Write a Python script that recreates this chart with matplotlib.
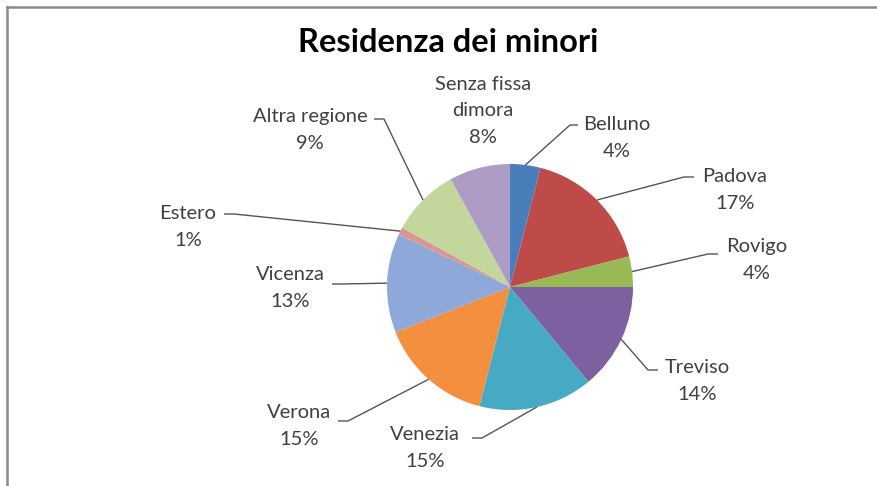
import matplotlib
matplotlib.use('Agg')  # headless
import numpy as np
import matplotlib.pyplot as plt

# Data (clockwise from 12 o'clock)
categories = ['Belluno', 'Padova', 'Rovigo', 'Treviso', 'Venezia', 'Verona',
              'Vicenza', 'Estero', 'Altra regione', 'Senza fissa dimora']
percent = [4, 17, 4, 14, 15, 15, 13, 1, 9, 8]
slice_colors = ['#4A7EBB', '#BE4B48', '#98B954', '#7D60A0', '#46AAC5', '#F38F3E',
                '#8FA8DA', '#D99694', '#C3D69B', '#AE9CC6']
label_text = ['Belluno', 'Padova', 'Rovigo', 'Treviso', 'Venezia', 'Verona',
              'Vicenza', 'Estero', 'Altra regione', 'Senza fissa\ndimora']

W, H = 877, 486
CX, CY, R = 510, 287, 123  # pie centre / radius, pixel coords (y down)

# label layout in pixel coords: text centre, leader end at text, stub end (None = no leader)
layout = [
    ((617, 138), (578, 125), (570, 125)),
    ((735, 190), (694, 177), (684, 177)),
    ((757, 260), (718, 254), (708, 254)),
    ((697, 381), (658, 370), (648, 370)),
    ((425, 448), (472, 438), (482, 438)),
    ((299, 426), (338, 421), (348, 421)),
    ((290, 288), (332, 284), (342, 284)),
    ((188, 227), (224, 214), (234, 214)),
    ((310, 130), (374, 119), (384, 119)),
    ((483, 111), None, None),
]

plt.rcParams['font.family'] = ['Lato', 'DejaVu Sans']

fig = plt.figure(figsize=(W / 100, H / 100), dpi=100)
ax = fig.add_axes([0, 0, 1, 1])

def py(y):
    return H - y

wedges, _ = ax.pie(percent, colors=slice_colors, startangle=90, counterclock=False,
                   center=(CX, py(CY)), radius=R, frame=True,
                   wedgeprops=dict(linewidth=0))
ax.set_xlim(0, W)
ax.set_ylim(0, H)
ax.set_aspect('equal')
ax.axis('off')

for w, txt, pct, (tc, anchor, stub) in zip(wedges, label_text, percent, layout):
    ax.text(tc[0], py(tc[1]), f'{txt}\n{pct}%', ha='center', va='center',
            fontsize=14.5, color='#404040', linespacing=1.65)
    if anchor is None:
        continue
    mid = np.deg2rad((w.theta1 + w.theta2) / 2)
    ex, ey = CX + R * np.cos(mid), py(CY) + R * np.sin(mid)
    ax.plot([ex, stub[0], anchor[0]], [ey, py(stub[1]), py(anchor[1])],
            color='#555555', lw=1, solid_capstyle='butt')

ax.text(448, py(43), 'Residenza dei minori', ha='center', va='center',
        fontsize=23.5, fontweight='bold', color='black')

# chart frame (top and left edges visible)
ax.plot([7, W], [py(7), py(7)], color='#8a8a8a', lw=1.8)
ax.plot([7, 7], [py(7), 0], color='#8a8a8a', lw=1.8)

fig.savefig('out.png', dpi=100)
